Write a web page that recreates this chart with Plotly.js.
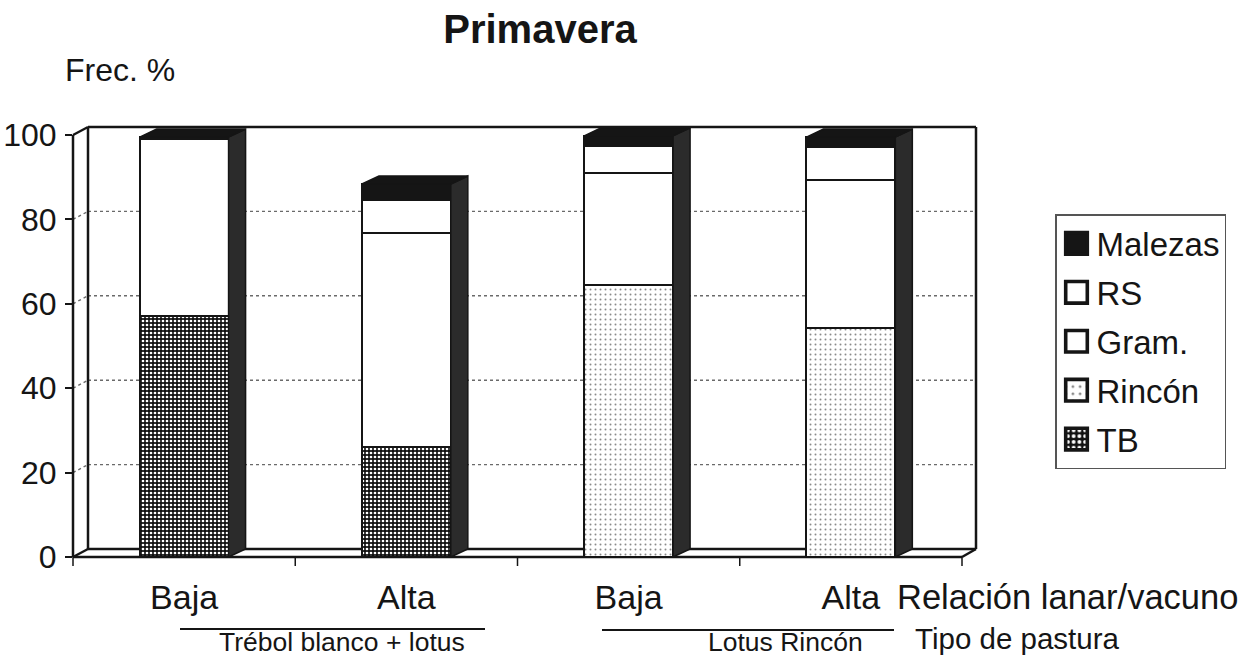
<!DOCTYPE html>
<html>
<head>
<meta charset="utf-8">
<script src="https://cdn.plot.ly/plotly-3.0.1.min.js"></script>
<style>html,body{margin:0;padding:0;background:#fff;}#chart{width:1256px;height:657px;}</style>
</head>
<body>
<div id="chart"></div>
<script>
// ---- data ----
const categories = ['Baja', 'Alta', 'Baja', 'Alta'];
const pasturas = ['Trébol blanco + lotus', 'Lotus Rincón'];
const tb      = [57,   26,   0,    0];
const rincon  = [0,    0,    64.5, 54.3];
const gram    = [42,   50.7, 26.5, 35];
const rs      = [0,    7.9,  6.4,  7.9];
const malezas = [0.5,  3.8,  2.4,  2.3];
const yTicks  = [0, 20, 40, 60, 80, 100];

// ---- geometry of the frame (pixels) ----
const W0 = 1256, H0 = 657;
const L = 73, R = 976, T = 127, B = 557;
const PW = R - L, PH = B - T;
const FRONT_R = 962;                 // front floor right end
const unitX = (FRONT_R - L) / 4;     // px per category
const unitY = (B - 135) / 100;       // px per percent
const OX = 15, OY = 8;               // 3D offset of back wall (px)
const xRange = [-0.5, -0.5 + PW / unitX];
const yRange = [0, PH / unitY];
const DX = 17 / unitX, DY = 8 / unitY;  // bar depth in data units
const BW = 0.4;

const px = v => (v - L) / PW;
const py = v => (B - v) / PH;

const xs = categories.map((_, i) => i);
const totals = xs.map(i => tb[i] + rincon[i] + gram[i] + rs[i] + malezas[i]);

const FONT = 'Liberation Sans, Arial, sans-serif';
const INK = '#151515';

function barTrace(name, y, fill, rank, pattern) {
  const t = {
    type: 'bar', name: name, x: xs, y: y, width: BW,
    legendgroup: name, legendrank: rank,
    marker: { color: fill, line: { color: INK, width: 2 } },
    hoverinfo: 'skip'
  };
  if (pattern) t.marker.pattern = pattern;
  return t;
}

const traces = [
  barTrace('TB', tb, '#111', 5, { shape: '.', bgcolor: '#111', fgcolor: '#ffffff', size: 4, solidity: 0.36 }),
  barTrace('Rincón', rincon, '#fff', 4, { shape: '.', bgcolor: '#ffffff', fgcolor: '#8a8a8a', size: 5, solidity: 0.12 }),
  barTrace('Gram.', gram, '#fff', 3),
  barTrace('RS', rs, '#fff', 2),
  barTrace('Malezas', malezas, INK, 1)
];

// 3D side faces and top faces, built from the bar values
const sideX = [], sideY = [], topX = [], topY = [];
xs.forEach((x, i) => {
  const r = x + BW / 2, l = x - BW / 2, h = totals[i];
  sideX.push(r, r + DX, r + DX, r, r, null);
  sideY.push(0, DY, h + DY, h, 0, null);
  topX.push(l, l + DX, r + DX, r, l, null);
  topY.push(h, h + DY, h + DY, h, h, null);
});
traces.push({
  type: 'scatter', mode: 'lines', x: sideX, y: sideY, fill: 'toself',
  fillcolor: '#2b2b2b', line: { color: INK, width: 1.5 }, showlegend: false, hoverinfo: 'skip'
});
traces.push({
  type: 'scatter', mode: 'lines', x: topX, y: topY, fill: 'toself',
  fillcolor: INK, line: { color: INK, width: 1.5 }, showlegend: false, hoverinfo: 'skip'
});

// ---- frame shapes (paper coordinates from pixels) ----
const shapes = [];
function seg(x0, y0, x1, y1, w, dash, color, layer) {
  shapes.push({ type: 'line', xref: 'paper', yref: 'paper',
    x0: px(x0), y0: py(y0), x1: px(x1), y1: py(y1),
    line: { color: color || INK, width: w || 2.5, dash: dash || 'solid' },
    layer: layer || 'below' });
}
const yFront = v => B - v * unitY;
// gridlines on side + back wall
yTicks.filter(v => v > 0 && v < 100).forEach(v => {
  const f = yFront(v);
  seg(L, f, L + OX, f - OY, 1.4, 'dot', '#6a6a6a');
  seg(L + OX, f - OY, R, f - OY, 1.4, 'dot', '#6a6a6a');
});
// walls
seg(L, yFront(100), L, B, 2.5);
seg(L + OX, T, L + OX, B - OY, 2.5);
seg(L, yFront(100), L + OX, T, 2.5);
seg(L + OX, T, R, T, 2.5);
seg(R, T, R, B - OY, 2.5);
seg(L + OX, B - OY, R, B - OY, 2.5);
seg(L, B, L + OX, B - OY, 2.5);
seg(L, B, FRONT_R, B, 2.5);
seg(FRONT_R, B, R, B - OY, 2.5);
// x tick marks on category boundaries
for (let k = 0; k <= 4; k++) {
  const xx = L + k * unitX;
  seg(xx, B, xx, B + 9, 1.5);
}
// pasture group lines
seg(180, 629, 485, 629, 2, 'solid', INK, 'above');
seg(602, 630, 894, 630, 2, 'solid', INK, 'above');

const annotations = [
  { text: 'Frec. %', xref: 'paper', yref: 'paper', x: px(63), y: py(70), xanchor: 'left', yanchor: 'middle', showarrow: false, font: { family: FONT, size: 32, color: INK } },
  { text: 'Relación lanar/vacuno', xref: 'paper', yref: 'paper', x: px(895), y: py(597), xanchor: 'left', yanchor: 'middle', showarrow: false, font: { family: FONT, size: 34.5, color: INK } },
  { text: 'Tipo de pastura', xref: 'paper', yref: 'paper', x: px(913), y: py(638), xanchor: 'left', yanchor: 'middle', showarrow: false, font: { family: FONT, size: 29.5, color: INK } },
  { text: pasturas[0], xref: 'paper', yref: 'paper', x: px(342), y: py(642), xanchor: 'center', yanchor: 'middle', showarrow: false, font: { family: FONT, size: 26.5, color: INK } },
  { text: pasturas[1], xref: 'paper', yref: 'paper', x: px(785), y: py(642), xanchor: 'center', yanchor: 'middle', showarrow: false, font: { family: FONT, size: 26.5, color: INK } }
];

const layout = {
  width: W0, height: H0,
  margin: { l: L, r: W0 - R, t: T, b: H0 - B, pad: 0 },
  paper_bgcolor: '#fff', plot_bgcolor: 'rgba(0,0,0,0)',
  barmode: 'stack',
  font: { family: FONT, color: INK },
  title: { text: '<b>Primavera</b>', xref: 'paper', x: px(540), xanchor: 'center', y: 1 - 29 / H0, yanchor: 'middle', font: { family: FONT, size: 40, color: INK } },
  xaxis: {
    range: xRange, tickmode: 'array', tickvals: xs, ticktext: categories,
    showgrid: false, zeroline: false, showline: false, ticks: '',
    tickfont: { family: FONT, size: 34, color: INK }, ticklabelstandoff: 17, fixedrange: true
  },
  yaxis: {
    range: yRange, tickmode: 'array', tickvals: yTicks, ticktext: yTicks.map(String),
    showgrid: false, zeroline: false, showline: false,
    ticks: 'outside', ticklen: 7, tickwidth: 2, tickcolor: INK,
    tickfont: { family: FONT, size: 32, color: INK }, ticklabelstandoff: 2, fixedrange: true
  },
  legend: {
    x: px(1055), xanchor: 'left', y: py(214), yanchor: 'top',
    traceorder: 'grouped', tracegroupgap: 3,
    bgcolor: '#fff', bordercolor: '#555', borderwidth: 1.5,
    font: { family: FONT, size: 33, color: INK }
  },
  showlegend: true,
  shapes: shapes,
  annotations: annotations
};

Plotly.newPlot('chart', traces, layout, { staticPlot: true, displayModeBar: false }).then(() => {
  document.querySelectorAll('.legend .legendpoints path').forEach(p => {
    const t = p.getAttribute('transform') || '';
    p.setAttribute('transform', t + ' scale(1.8)');
  });
});
</script>
</body>
</html>
